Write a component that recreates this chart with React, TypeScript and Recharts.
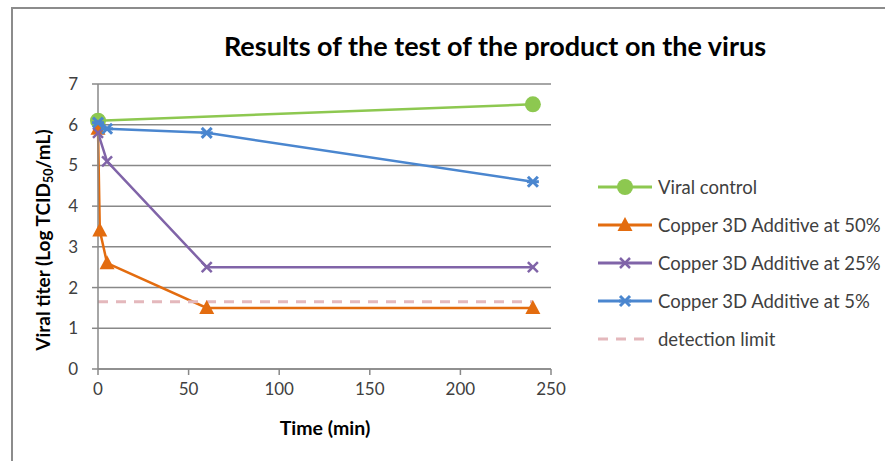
import { LineChart, Line, XAxis, YAxis, CartesianGrid } from "recharts";

// time points (min) and viral titer (Log TCID50/mL) per series
const controlTimes = [0, 240];
const controlTiter = [6.1, 6.5];
const copper50Times = [0, 1, 5, 60, 240];
const copper50Titer = [5.9, 3.4, 2.6, 1.5, 1.5];
const copper25Times = [0, 5, 60, 240];
const copper25Titer = [5.8, 5.1, 2.5, 2.5];
const copper5Times = [0, 5, 60, 240];
const copper5Titer = [6.05, 5.9, 5.8, 4.6];
const limitTimes = [0, 240];
const limitTiter = [1.65, 1.65];

const xTicks = [0, 50, 100, 150, 200, 250];
const yTicks = [0, 1, 2, 3, 4, 5, 6, 7];

const FONT = "Lato, 'Open Sans', sans-serif";
const GRID = "#888888";
const TEXT = "#404040";

type Kind = "circle" | "triangle" | "x" | "star" | "none";

const toPoints = (ts: number[], vs: number[]) => ts.map((t, i) => ({ t, v: vs[i] }));

const series = [
  { name: "Viral control", color: "#8DC850", kind: "circle" as Kind, data: toPoints(controlTimes, controlTiter), dash: undefined },
  { name: "Copper 3D Additive at 50%", color: "#E36C0F", kind: "triangle" as Kind, data: toPoints(copper50Times, copper50Titer), dash: undefined },
  { name: "Copper 3D Additive at 25%", color: "#8064A8", kind: "x" as Kind, data: toPoints(copper25Times, copper25Titer), dash: undefined },
  { name: "Copper 3D Additive at 5%", color: "#4A86CF", kind: "star" as Kind, data: toPoints(copper5Times, copper5Titer), dash: undefined },
  { name: "detection limit", color: "#E4B8BC", kind: "none" as Kind, data: toPoints(limitTimes, limitTiter), dash: "10 8" },
];

function Marker({ kind, cx, cy, color }: { kind: Kind; cx: number; cy: number; color: string }) {
  if (kind === "circle") return <circle cx={cx} cy={cy} r={8} fill={color} />;
  if (kind === "triangle")
    return <polygon points={`${cx},${cy - 8} ${cx + 7.5},${cy + 6} ${cx - 7.5},${cy + 6}`} fill={color} />;
  if (kind === "x")
    return (
      <g stroke={color} strokeWidth={2.5}>
        <line x1={cx - 5} y1={cy - 5} x2={cx + 5} y2={cy + 5} />
        <line x1={cx - 5} y1={cy + 5} x2={cx + 5} y2={cy - 5} />
      </g>
    );
  if (kind === "star")
    return (
      <g stroke={color} strokeWidth={3}>
        <line x1={cx - 5} y1={cy - 5} x2={cx + 5} y2={cy + 5} />
        <line x1={cx - 5} y1={cy + 5} x2={cx + 5} y2={cy - 5} />
        <line x1={cx - 6} y1={cy} x2={cx + 6} y2={cy} />
      </g>
    );
  return null;
}

function Legend() {
  return (
    <div style={{ position: "absolute", left: 598, top: 168, fontFamily: FONT, fontSize: 18.5, color: TEXT }}>
      {series.map((s) => (
        <div key={s.name} style={{ display: "flex", alignItems: "center", height: 38, whiteSpace: "nowrap" }}>
          <svg width={56} height={20} style={{ marginRight: 4 }}>
            <line x1={0} y1={10} x2={54} y2={10} stroke={s.color} strokeWidth={3} strokeDasharray={s.dash} />
            <Marker kind={s.kind} cx={27} cy={10} color={s.color} />
          </svg>
          <span>{s.name}</span>
        </div>
      ))}
    </div>
  );
}

export default function App() {
  return (
    <div style={{ position: "absolute", left: 0, top: 0, width: 885, height: 461, background: "#fff", overflow: "hidden" }}>
      <div
        style={{
          position: "absolute", left: 11, top: 7, width: 900, height: 480,
          borderLeft: "2px solid #8c8c8c", borderTop: "2px solid #8c8c8c",
        }}
      />
      <div
        style={{
          position: "absolute", left: 0, width: 990, top: 29, textAlign: "center",
          fontFamily: FONT, fontWeight: 700, fontSize: 27, color: "#000",
        }}
      >
        Results of the test of the product on the virus
      </div>
      <div style={{ position: "absolute", left: 0, top: 0 }}>
        <LineChart width={885} height={461} margin={{ top: 84, right: 334, bottom: 62, left: 38 }}>
          <CartesianGrid vertical={false} stroke={GRID} strokeWidth={1.5} />
          <XAxis
            type="number"
            dataKey="t"
            domain={[0, 250]}
            ticks={xTicks}
            height={30}
            stroke={GRID}
            strokeWidth={1.5}
            tickSize={6}
            tickMargin={8}
            tick={{ fill: TEXT, fontSize: 17, fontFamily: FONT }}
          />
          <YAxis
            type="number"
            domain={[0, 7]}
            ticks={yTicks}
            width={60}
            stroke={GRID}
            strokeWidth={1.5}
            tickSize={6}
            tickMargin={14}
            tick={{ fill: TEXT, fontSize: 17, fontFamily: FONT }}
          />
          {series.map((s) => (
            <Line
              key={s.name}
              data={s.data}
              dataKey="v"
              name={s.name}
              type="linear"
              stroke={s.color}
              strokeWidth={s.kind === "none" ? 3 : 2.5}
              strokeDasharray={s.dash}
              isAnimationActive={false}
              dot={(p: any) => <Marker key={`${s.name}-${p.index}`} kind={s.kind} cx={p.cx} cy={p.cy} color={s.color} />}
              activeDot={false}
            />
          ))}
        </LineChart>
      </div>
      <div
        style={{
          position: "absolute", left: 46, top: 240, width: 0, height: 0,
          display: "flex", alignItems: "center", justifyContent: "center",
        }}
      >
        <div
          style={{
            transform: "rotate(-90deg)", whiteSpace: "nowrap", lineHeight: "22px",
            fontFamily: FONT, fontWeight: 700, fontSize: 19, color: "#000",
          }}
        >
          Viral titer (Log TCID<span style={{ fontSize: 12.5, verticalAlign: "-3px" }}>50</span>/mL)
        </div>
      </div>
      <div
        style={{
          position: "absolute", left: 225, width: 200, top: 416, textAlign: "center",
          fontFamily: FONT, fontWeight: 700, fontSize: 19.5, color: "#000",
        }}
      >
        Time (min)
      </div>
      <Legend />
    </div>
  );
}
